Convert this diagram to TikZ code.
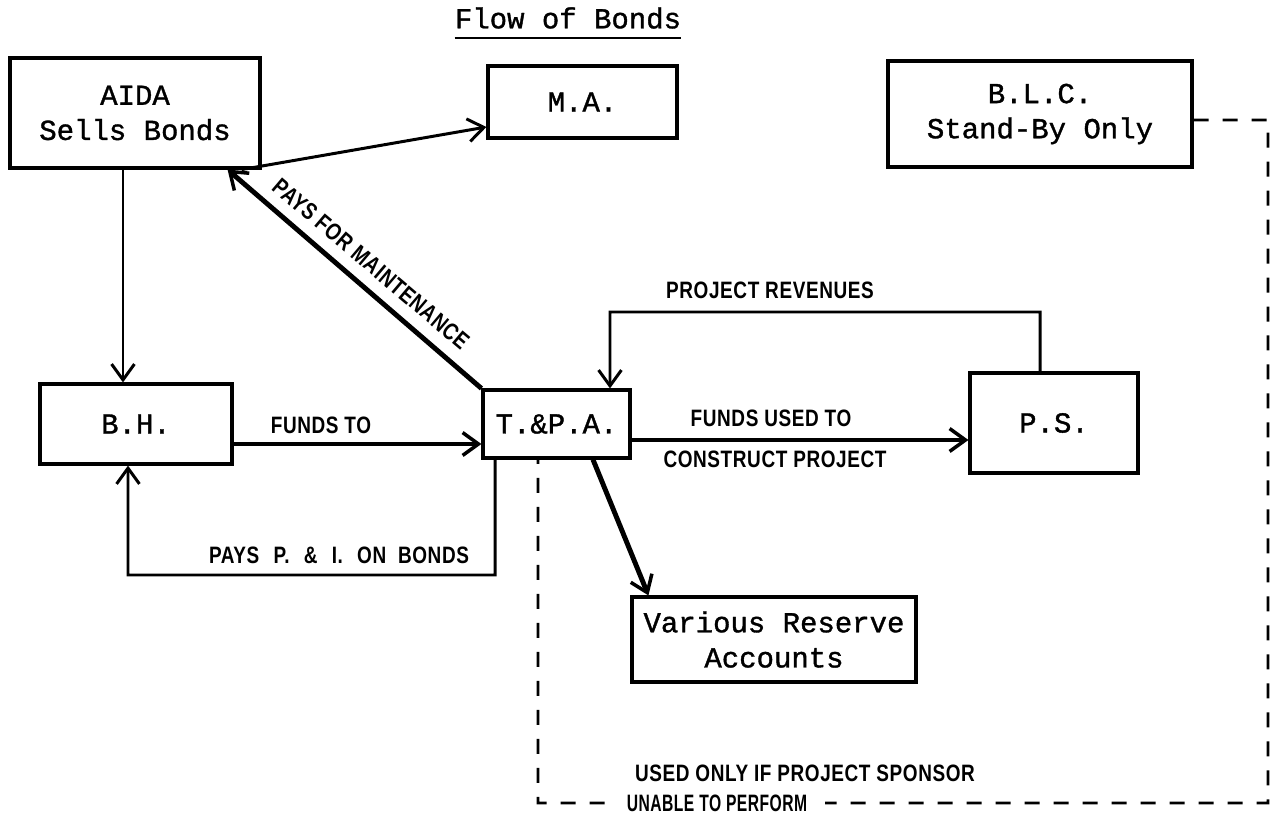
\documentclass[tikz,border=0pt]{standalone}
\usepackage{fontspec}
\usetikzlibrary{arrows.meta,calc}
\newfontfamily\boxfont[FakeBold=1.2]{Liberation Mono}
\newfontfamily\labfont[FakeStretch=0.8,LetterSpace=2.5]{Liberation Sans Bold}
\newfontfamily\narfont[FakeStretch=0.66,LetterSpace=2]{Liberation Sans Bold}
\tikzset{
  bx/.style={draw, line width=1.8pt, inner sep=0pt, align=center,
    font=\boxfont\fontsize{16.5}{20}\selectfont},
  lab/.style={inner sep=1pt, font=\labfont\fontsize{13.5}{16}\selectfont},
  arr/.style={line width=1.7pt, -{Straight Barb[length=9pt,width=13pt,line width=1.7pt]}},
  tarr/.style={line width=2.8pt, -{Straight Barb[length=9pt,width=13pt,line width=2pt]}},
  dsh/.style={line width=1.6pt, dash pattern=on 0.3cm off 0.28cm}
}
\begin{document}
\begin{tikzpicture}[x=0.02cm,y=-0.02cm]
\useasboundingbox (0,0) rectangle (1275,818);
% title
\node[font=\boxfont\fontsize{16.5}{20}\selectfont, inner sep=0pt] (title) at (568,18) {Flow of Bonds};
\draw[line width=1.3pt] (title.south west |- 0,38) -- (title.south east |- 0,38);
% boxes
\node[bx, minimum width=5cm, minimum height=2.2cm] (aida) at (135,113) {AIDA\\Sells Bonds};
\node[bx, minimum width=3.78cm, minimum height=1.44cm] (ma) at (582.5,102) {M.A.};
\node[bx, minimum width=6.08cm, minimum height=2.12cm] (blc) at (1040,114) {B.L.C.\\Stand-By Only};
\node[bx, minimum width=3.84cm, minimum height=1.6cm] (bh) at (136,424) {B.H.};
\node[bx, minimum width=2.94cm, minimum height=1.36cm] (tpa) at (556.5,424) {T.\&P.A.};
\node[bx, minimum width=3.36cm, minimum height=2cm] (ps) at (1054,423) {P.S.};
\node[bx, minimum width=5.68cm, minimum height=1.7cm] (res) at (774,639.5) {Various Reserve\\Accounts};
% coordinates
\coordinate (pi) at (128,575);
\coordinate (rev) at (610,312);
\coordinate (d1) at (1268,120);
\coordinate (d2) at (1268,803);
\coordinate (d3) at (538,803);
% connectors
\draw[arr] ([xshift=-0.26cm]bh.north |- aida.south) -- ([xshift=-0.26cm]bh.north);
\draw[arr] ([xshift=-0.4cm]aida.south east) -- ([yshift=-0.5cm]ma.west);
\draw[tarr] (tpa.north west) -- ([xshift=-0.68cm]aida.south east);
\draw[tarr] ([yshift=-0.4cm]bh.east) -- ([yshift=-0.4cm]bh.east -| tpa.west);
\draw[arr] ([xshift=-1.23cm]tpa.south) |- (pi) -- ([xshift=-0.16cm]bh.south);
\draw[tarr] ([yshift=-0.32cm]tpa.east) -- ([yshift=-0.32cm]tpa.east -| ps.west);
\draw[arr] ([xshift=-0.28cm]ps.north) |- (rev) -- ([xshift=1.07cm]tpa.north);
\draw[tarr] ([xshift=0.73cm]tpa.south) -- ([xshift=0.36cm]res.north west);
\draw[dsh] ([yshift=-0.12cm]blc.east) -- (d1) -- (d2) -- (d3) -- ([xshift=-0.37cm]tpa.south);
% labels
\node[lab] (l1) at (321,425) {FUNDS TO};
\node[lab] (l2) at (339,555) {PAYS\hspace{0.6em}P.\hspace{0.6em}\&\hspace{0.6em}I.\hspace{0.6em}ON\hspace{0.5em}BONDS};
\node[lab] (l3) at (771,418) {FUNDS USED TO};
\node[lab] (l4) at (775,459) {CONSTRUCT PROJECT};
\node[lab] (l5) at (770,290) {PROJECT REVENUES};
\node[lab, rotate=-40.3] (l6) at (371,264) {PAYS FOR MAINTENANCE};
\node[lab] (l7) at (805,773) {USED ONLY IF PROJECT SPONSOR};
\node[lab, font=\narfont\fontsize{13.5}{16}\selectfont, fill=white, inner xsep=0.35cm] (l8) at (717,803) {UNABLE TO PERFORM};
\end{tikzpicture}
\end{document}
